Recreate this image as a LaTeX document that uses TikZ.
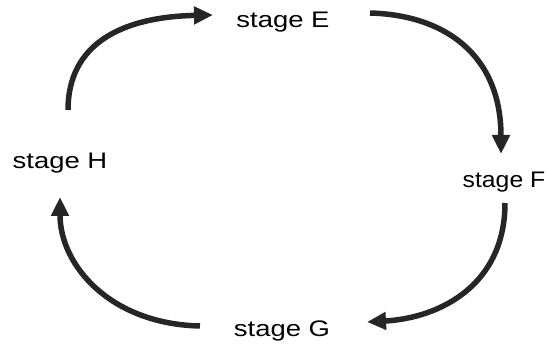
\documentclass[tikz,border=0pt]{standalone}
\usepackage{fontspec}
\setmainfont{Liberation Sans}
\newfontfamily\labfont[FakeStretch=1.22]{Liberation Sans}
\newfontfamily\labfontf[FakeStretch=1.1]{Liberation Sans}
\usetikzlibrary{arrows.meta}
\tikzset{
  stagelabel/.style={inner sep=0pt, font=\labfont\fontsize{22.5}{26}\selectfont, anchor=base},
  cyclearrow/.style={line width=5.5pt, draw=black!85, -{Triangle[length=19pt,width=17pt]}}
}
\begin{document}
\begin{tikzpicture}[x=1pt,y=-1pt]
\useasboundingbox (0,0) rectangle (550,345);
\node[stagelabel] (E) at (283,28) {stage E};
\node[stagelabel] (H) at (60,169) {stage H};
\node[stagelabel, font=\labfontf\fontsize{22.5}{26}\selectfont] (F) at (504,188) {stage F};
\node[stagelabel] (G) at (282,336) {stage G};
\coordinate (hs) at (68,110);
\coordinate (et) at (213,15);
\coordinate (es) at (370,13);
\coordinate (ft) at (501,154);
\coordinate (fs) at (505,203);
\coordinate (gt) at (367,322);
\coordinate (gs) at (200,326);
\coordinate (ht) at (60,197);
\draw[cyclearrow] (hs) .. controls (68,45) and (120,17) .. (et);
\draw[cyclearrow] (es) .. controls (445,15) and (501,55) .. (ft);
\draw[cyclearrow] (fs) .. controls (505,285) and (440,318) .. (gt);
\draw[cyclearrow] (gs) .. controls (110,324) and (60,265) .. (ht);
\end{tikzpicture}
\end{document}
